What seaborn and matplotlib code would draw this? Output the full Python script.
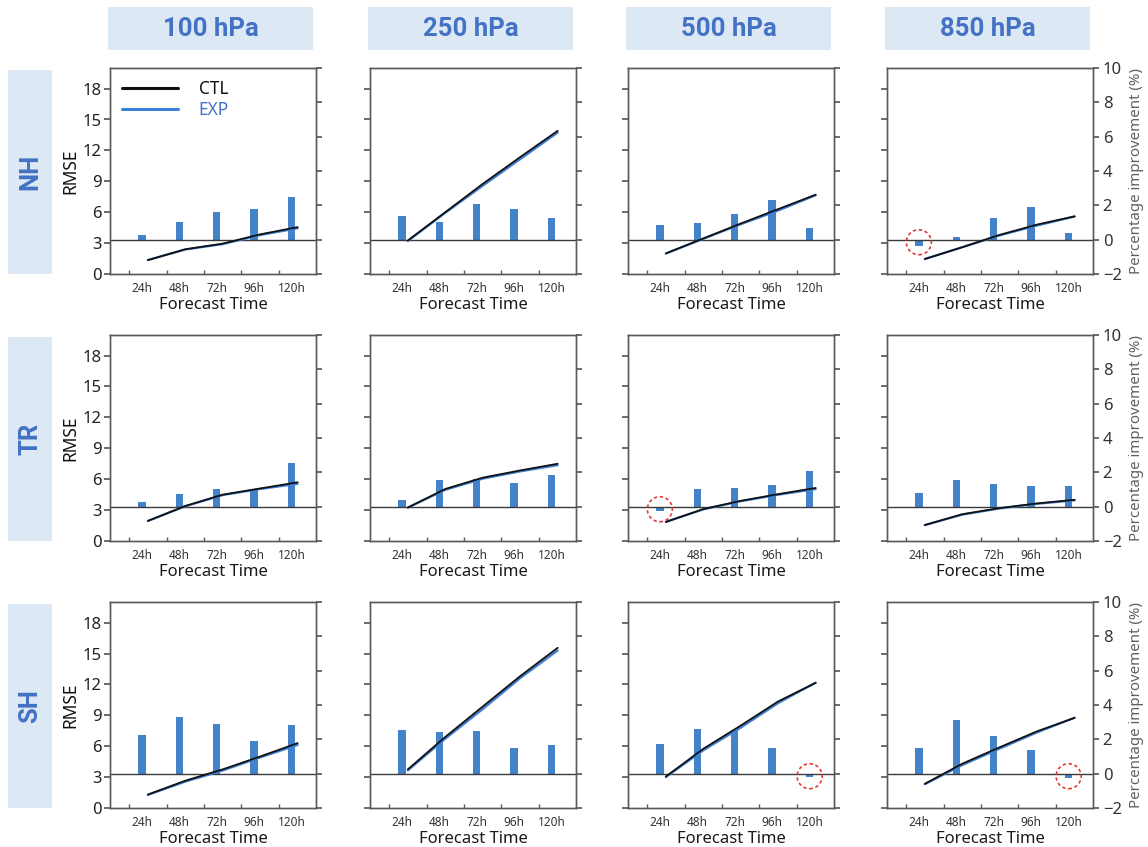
import matplotlib
matplotlib.use("Agg")
import matplotlib.pyplot as plt
import seaborn as sns
import numpy as np
from matplotlib.lines import Line2D
from matplotlib.patches import Rectangle, Circle
from matplotlib.transforms import ScaledTranslation

# ---- data -------------------------------------------------------------
hours = ["24h", "48h", "72h", "96h", "120h"]
levels = ["100 hPa", "250 hPa", "500 hPa", "850 hPa"]
regions = ["NH", "TR", "SH"]

# RMSE of the control run (one list per pressure level)
ctl_nh = [[1.35, 2.40, 2.95, 3.85, 4.55],
          [3.25, 6.00, 8.75, 11.35, 13.90],
          [2.00, 3.45, 4.90, 6.30, 7.70],
          [1.45, 2.60, 3.80, 4.80, 5.60]]
ctl_tr = [[1.95, 3.40, 4.50, 5.10, 5.70],
          [3.25, 5.05, 6.15, 6.85, 7.50],
          [1.85, 3.10, 3.90, 4.55, 5.15],
          [1.55, 2.60, 3.20, 3.65, 4.00]]
ctl_sh = [[1.30, 2.65, 3.75, 5.00, 6.30],
          [3.75, 6.90, 9.85, 12.80, 15.55],
          [3.05, 5.75, 8.00, 10.35, 12.15],
          [2.35, 4.30, 5.90, 7.45, 8.75]]

# RMSE of the experiment
exp_nh = [[1.35, 2.38, 2.90, 3.78, 4.44],
          [3.20, 5.94, 8.57, 11.15, 13.73],
          [1.98, 3.42, 4.83, 6.16, 7.65],
          [1.46, 2.60, 3.75, 4.71, 5.58]]
exp_tr = [[1.94, 3.37, 4.46, 5.05, 5.55],
          [3.24, 4.97, 6.05, 6.76, 7.36],
          [1.85, 3.07, 3.86, 4.49, 5.04],
          [1.54, 2.56, 3.16, 3.61, 3.95]]
exp_sh = [[1.27, 2.56, 3.64, 4.91, 6.12],
          [3.65, 6.73, 9.60, 12.61, 15.29],
          [3.00, 5.60, 7.80, 10.19, 12.17],
          [2.31, 4.17, 5.77, 7.35, 8.77]]

# percentage improvement of EXP over CTL
pct_nh = [[0.30, 1.00, 1.60, 1.80, 2.50],
          [1.40, 1.05, 2.05, 1.80, 1.25],
          [0.85, 0.95, 1.50, 2.30, 0.70],
          [-0.35, 0.15, 1.25, 1.90, 0.40]]
pct_tr = [[0.30, 0.75, 1.00, 1.00, 2.55],
          [0.40, 1.55, 1.60, 1.35, 1.85],
          [-0.25, 1.05, 1.10, 1.25, 2.10],
          [0.80, 1.55, 1.30, 1.20, 1.20]]
pct_sh = [[2.25, 3.30, 2.90, 1.90, 2.85],
          [2.55, 2.40, 2.50, 1.50, 1.65],
          [1.70, 2.60, 2.55, 1.50, -0.20],
          [1.50, 3.10, 2.20, 1.40, -0.25]]

ctl_all = [ctl_nh, ctl_tr, ctl_sh]
exp_all = [exp_nh, exp_tr, exp_sh]
pct_all = [pct_nh, pct_tr, pct_sh]

# ---- style ------------------------------------------------------------
sns.set_theme(style="ticks")
plt.rcParams["font.family"] = ["Noto Sans", "DejaVu Sans"]
HEAD_FONT = ["Roboto", "DejaVu Sans"]

BAR = "#4383ca"
EXP_C = "#3d7fd6"
CTL_C = "#111111"
HEAD_BG = "#dde8f5"
HEAD_FG = "#4472c4"
SPINE = "#5a5a5a"

W, H = 1148, 847
fig = plt.figure(figsize=(W / 100, H / 100), dpi=100)

col_left = [110, 370, 628, 887]
row_top = [68, 335, 602]
ax_w, ax_h = 206, 206

xbar = np.arange(len(hours))
xline = xbar + 0.16


def fig_rect(x, y, w, h):
    return [x / W, 1 - (y + h) / H, w / W, h / H]


# column headers
for c, lev in enumerate(levels):
    x0 = col_left[c] - 2
    fig.patches.append(Rectangle((x0 / W, 1 - 50 / H), 205 / W, 43 / H,
                                 transform=fig.transFigure, facecolor=HEAD_BG,
                                 edgecolor="none", zorder=0))
    fig.text((x0 + 102.5) / W, 1 - 28.5 / H, lev, ha="center", va="center",
             fontsize=18.5, fontweight="bold", color=HEAD_FG, family=HEAD_FONT)

# row headers
for r, reg in enumerate(regions):
    y0 = row_top[r] + 2
    fig.patches.append(Rectangle((8 / W, 1 - (y0 + 204) / H), 44 / W, 204 / H,
                                 transform=fig.transFigure, facecolor=HEAD_BG,
                                 edgecolor="none", zorder=0))
    fig.text(30 / W, 1 - (y0 + 102) / H, reg, ha="center", va="center",
             rotation=90, fontsize=18.5, fontweight="bold", color=HEAD_FG,
             family=HEAD_FONT)

for r in range(3):
    for c in range(4):
        ax = fig.add_axes(fig_rect(col_left[c], row_top[r], ax_w, ax_h))
        ax2 = ax.twinx()
        ax.set_zorder(ax2.get_zorder() + 1)
        ax.patch.set_visible(False)

        pct = pct_all[r][c]
        sns.barplot(x=hours, y=pct, ax=ax2, color=BAR, width=0.2,
                    saturation=1, order=hours, linewidth=0)
        ax2.axhline(0, color="#3a3a3a", lw=1.0, zorder=1)

        sns.lineplot(x=xline, y=exp_all[r][c], ax=ax, color=EXP_C, lw=1.6,
                     legend=False)
        sns.lineplot(x=xline, y=ctl_all[r][c], ax=ax, color=CTL_C, lw=1.3,
                     legend=False)

        ax.set_xlim(-0.85, 4.65)
        ax.set_ylim(0, 20)
        ax2.set_ylim(-2, 10)

        ax.set_xticks(xbar)
        ax.set_xticklabels(hours, fontsize=8.5, color="#333333")
        ax.set_xticks(xbar - 0.34, minor=True)
        ax.tick_params(axis="x", which="major", length=0, pad=6)
        ax.tick_params(axis="x", which="minor", length=3, direction="in",
                       color=SPINE)
        ax.set_xlabel("Forecast Time", fontsize=12, labelpad=1,
                      color="#1a1a1a")

        ax.set_yticks(np.arange(0, 19, 3))
        ax.tick_params(axis="y", length=4, color=SPINE, labelsize=12,
                       labelcolor="#222222", pad=2)
        if c == 0:
            ax.set_ylabel("RMSE", fontsize=12.5, color="#111111", labelpad=2)
        else:
            ax.set_yticklabels([])
            ax.set_ylabel("")

        ax2.set_yticks(np.arange(-2, 11, 2))
        ax2.tick_params(axis="y", length=4, color=SPINE, labelsize=12,
                        labelcolor="#333333", pad=3)
        ax2.set_xlabel("")
        if c == 3:
            ax2.set_ylabel("Percentage improvement (%)", fontsize=10.8,
                           color="#606060", labelpad=5)
        else:
            ax2.set_yticklabels([])
            ax2.set_ylabel("")

        for a in (ax, ax2):
            for sp in a.spines.values():
                sp.set_color(SPINE)
                sp.set_linewidth(1.0)
                sp.set_visible(True)

        # dashed red circles around the negative improvements
        for i, v in enumerate(pct):
            if v < 0:
                circ = Circle((0, 0), radius=0.125,
                              transform=fig.dpi_scale_trans +
                              ScaledTranslation(xbar[i], -0.15, ax2.transData),
                              facecolor="none", edgecolor="#e23b3b",
                              linestyle=(0, (2, 1.6)), lw=1.2, zorder=5,
                              clip_on=False)
                ax2.add_artist(circ)

        if r == 0 and c == 0:
            handles = [Line2D([], [], color=CTL_C, lw=2.2),
                       Line2D([], [], color=EXP_C, lw=2.2)]
            leg = ax.legend(handles, ["CTL", "EXP"], loc="upper left",
                            frameon=False, fontsize=12.5, handlelength=3.2,
                            handletextpad=1.2, labelspacing=0.15,
                            borderaxespad=0.3, bbox_to_anchor=(0.0, 1.0))
            leg.get_texts()[0].set_color("#111111")
            leg.get_texts()[1].set_color(HEAD_FG)

fig.savefig("out.png", dpi=100)
